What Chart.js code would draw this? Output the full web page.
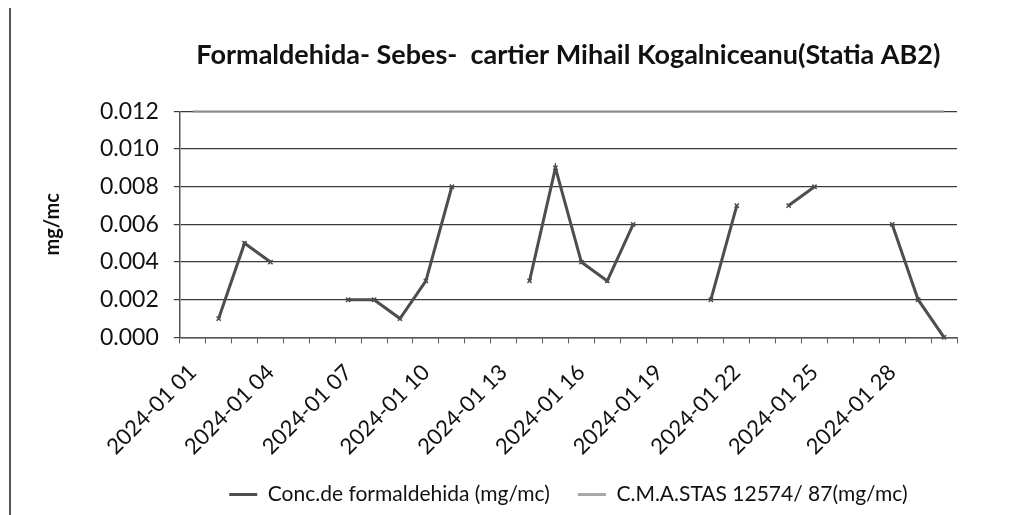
<!DOCTYPE html>
<html>
<head>
<meta charset="utf-8">
<script src="https://cdn.jsdelivr.net/npm/chart.js@4.4.1/dist/chart.umd.min.js"></script>
<style>
  html, body { margin: 0; padding: 0; background: #fff; }
  #wrap { position: relative; width: 1029px; height: 515px; }
  #edge { position: absolute; left: 9px; top: 8px; bottom: 0; width: 2px; background: #555; }
</style>
</head>
<body>
<div id="wrap">
  <div id="edge"></div>
  <canvas id="chart" width="1029" height="515"></canvas>
</div>
<script>
const days = [
  '2024-01 01', '2024-01 02', '2024-01 03', '2024-01 04', '2024-01 05',
  '2024-01 06', '2024-01 07', '2024-01 08', '2024-01 09', '2024-01 10',
  '2024-01 11', '2024-01 12', '2024-01 13', '2024-01 14', '2024-01 15',
  '2024-01 16', '2024-01 17', '2024-01 18', '2024-01 19', '2024-01 20',
  '2024-01 21', '2024-01 22', '2024-01 23', '2024-01 24', '2024-01 25',
  '2024-01 26', '2024-01 27', '2024-01 28', '2024-01 29', '2024-01 30'
];

// daily concentration, gaps = no measurement
const concFormaldehida = [
  null, 0.001, 0.005, 0.004, null,
  null, 0.002, 0.002, 0.001, 0.003,
  0.008, null, null, 0.003, 0.009,
  0.004, 0.003, 0.006, null, null,
  0.002, 0.007, null, 0.007, 0.008,
  null, null, 0.006, 0.002, 0.000
];

// limit value (CMA)
const cmaStas = [
  0.012, 0.012, 0.012, 0.012, 0.012, 0.012, 0.012, 0.012, 0.012, 0.012,
  0.012, 0.012, 0.012, 0.012, 0.012, 0.012, 0.012, 0.012, 0.012, 0.012,
  0.012, 0.012, 0.012, 0.012, 0.012, 0.012, 0.012, 0.012, 0.012, 0.012
];

const yTicks = [0, 0.002, 0.004, 0.006, 0.008, 0.010, 0.012];

const FONT = 'Lato, "Open Sans", sans-serif';
Chart.defaults.font.family = FONT;
Chart.defaults.color = '#000';

new Chart(document.getElementById('chart'), {
  type: 'line',
  data: {
    labels: days,
    datasets: [
      {
        label: 'Conc.de formaldehida (mg/mc)',
        data: concFormaldehida,
        borderColor: '#4d4d52',
        backgroundColor: '#4d4d52',
        borderWidth: 3,
        pointStyle: 'crossRot',
        pointRadius: 3,
        pointBorderWidth: 1.5,
        spanGaps: false,
        tension: 0,
        clip: false
      },
      {
        label: 'C.M.A.STAS 12574/ 87(mg/mc)',
        data: cmaStas,
        borderColor: '#8c8c8c',
        backgroundColor: '#a8a8a8',
        borderWidth: 2,
        pointRadius: 0,
        tension: 0,
        clip: false
      }
    ]
  },
  options: {
    responsive: false,
    animation: false,
    layout: { padding: { top: 39, left: 41, right: 72, bottom: 0 } },
    plugins: {
      title: {
        display: true,
        fullSize: false,
        text: 'Formaldehida- Sebes-  cartier Mihail Kogalniceanu(Statia AB2)',
        font: { size: 27, weight: 'bold' },
        color: '#111',
        padding: { top: 0, bottom: 40 }
      },
      legend: {
        position: 'bottom',
        fullSize: false,
        labels: {
          boxWidth: 28,
          boxHeight: 3,
          padding: 28,
          font: { size: 21 },
          color: '#111',
          generateLabels: (chart) =>
            Chart.defaults.plugins.legend.labels.generateLabels(chart).map(l => ({ ...l, lineWidth: 0 }))
        }
      },
      tooltip: { enabled: false }
    },
    scales: {
      x: {
        offset: true,
        afterFit: (s) => { s.height = s.height - 20; },
        grid: {
          offset: true,
          drawOnChartArea: false,
          drawTicks: true,
          tickLength: 6,
          color: '#555'
        },
        border: { color: '#555', width: 1.5 },
        ticks: {
          autoSkip: false,
          minRotation: 45,
          maxRotation: 45,
          padding: 16,
          font: { size: 22 },
          color: '#111',
          callback: function (value, index) {
            return index % 3 === 0 ? this.getLabelForValue(value) : '';
          }
        }
      },
      y: {
        min: 0,
        max: 0.012,
        afterBuildTicks: (axis) => { axis.ticks = yTicks.map(v => ({ value: v })); },
        grid: { color: '#3a3a3a', lineWidth: 1.2, tickLength: 6 },
        border: { color: '#555', width: 1.5 },
        ticks: {
          padding: 15,
          font: { size: 23 },
          color: '#111',
          callback: (v) => Number(v).toFixed(3)
        },
        title: {
          display: true,
          text: 'mg/mc',
          font: { size: 20, weight: 'bold' },
          color: '#111',
          padding: { top: 0, bottom: 20 }
        }
      }
    }
  }
});
</script>
</body>
</html>
